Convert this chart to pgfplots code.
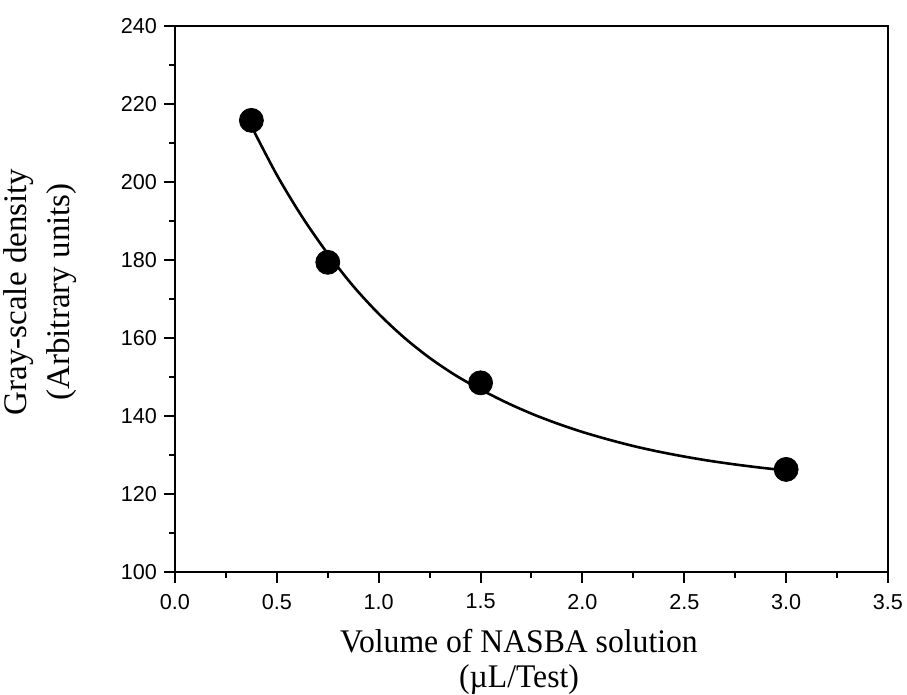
\documentclass[border=0pt]{standalone}
\usepackage{pgfplots}
\pgfplotsset{compat=1.18}
\usepackage{fontspec}
\setmainfont{Liberation Serif}
\newfontfamily\arial{Liberation Sans}
\newfontfamily\xlabfont[FakeStretch=0.96]{Liberation Serif}
\begin{document}
\begin{tikzpicture}
\path[use as bounding box] (-87.5pt,-61.5pt) rectangle (366pt,286pt);
\begin{axis}[
  at={(0,0)}, anchor=south west,
  scale only axis=true,
  width=356.5pt, height=273pt,
  xmin=0, xmax=3.5, ymin=100, ymax=240,
  xtick={0,0.5,...,3.5},
  ytick={100,120,...,240},
  minor x tick num=1, minor y tick num=1,
  tick align=outside,
  xtick pos=bottom, ytick pos=left,
  major tick length=5.5pt, minor tick length=3pt,
  every tick/.style={black, line width=1pt},
  axis line style={line width=1pt},
  /pgf/number format/assume math mode=true,
  xticklabel style={font=\arial\fontsize{10.8}{12}\selectfont, yshift=-2pt, /pgf/number format/.cd, fixed, fixed zerofill, precision=1},
  yticklabel style={font=\arial\fontsize{10.8}{12}\selectfont},
  xlabel={Volume of NASBA solution\\(µL/Test)},
  ylabel={Gray-scale density\\(Arbitrary units)},
  xlabel style={font=\xlabfont\fontsize{16.5}{17.5}\selectfont, align=center, inner sep=0pt,
    at={([yshift=-28.5pt]axis description cs:0.4825,0)}, anchor=north},
  ylabel style={font=\fontsize{16.5}{21.5}\selectfont, align=center, inner sep=0pt,
    at={([xshift=-86pt]axis description cs:0,0.513)}, anchor=north},
  clip=false,
]
\addplot[black, line width=1.3pt, smooth, tension=0.5, no markers] coordinates {
  (0.375,214.3) (0.5,201.8) (0.625,191.0) (0.75,181.6) (0.875,173.3)
  (1.0,166.2) (1.125,160.1) (1.25,154.9) (1.375,150.5) (1.5,146.8)
  (1.625,143.5) (1.75,140.6) (1.875,138.1) (2.0,135.9) (2.125,134.0)
  (2.25,132.3) (2.375,130.85) (2.5,129.6) (2.625,128.5) (2.75,127.57)
  (2.875,126.75) (3.0,126.04)
};
\addplot[only marks, mark=*, mark size=6pt, black, mark options={line width=0.4pt}] coordinates {
  (0.375,215.8) (0.75,179.4) (1.5,148.5) (3.0,126.3)
};
\end{axis}
\end{tikzpicture}
\end{document}
